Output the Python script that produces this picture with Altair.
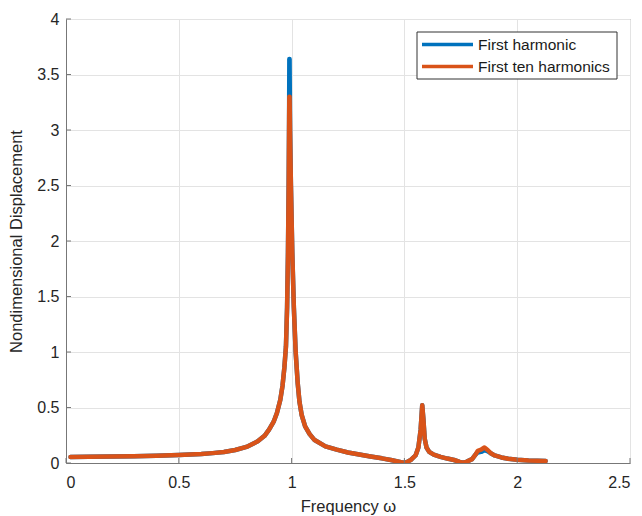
import altair as alt
import pandas as pd

# Frequency response of the nondimensional displacement
freq_first = [0.02, 0.1, 0.2, 0.3, 0.4, 0.5, 0.6, 0.65, 0.7, 0.75, 0.8, 0.85, 0.88, 0.9, 0.92,
              0.935, 0.95, 0.96, 0.968, 0.975, 0.98, 0.984, 0.987, 0.989, 0.990, 0.991, 0.993,
              0.997, 1.003, 1.01, 1.018, 1.027, 1.035, 1.045, 1.06, 1.08, 1.1, 1.15, 1.2, 1.25,
              1.3, 1.35, 1.4, 1.44, 1.47, 1.495, 1.51, 1.53, 1.55, 1.562, 1.572, 1.579, 1.584,
              1.59, 1.598, 1.61, 1.63, 1.66, 1.69, 1.72, 1.745, 1.758, 1.775, 1.8, 1.815, 1.825,
              1.84, 1.855, 1.87, 1.885, 1.9, 1.93, 1.96, 2.0, 2.05, 2.126]
disp_first = [0.055, 0.056, 0.058, 0.061, 0.065, 0.071, 0.081, 0.089, 0.099, 0.117, 0.145, 0.195,
              0.245, 0.30, 0.37, 0.45, 0.57, 0.70, 0.86, 1.05, 1.40, 1.90, 2.50, 3.10, 3.64, 3.64,
              3.00, 2.50, 1.90, 1.40, 1.00, 0.72, 0.55, 0.43, 0.33, 0.26, 0.21, 0.15, 0.12, 0.095,
              0.076, 0.058, 0.042, 0.027, 0.014, 0.003, 0.008, 0.03, 0.07, 0.14, 0.30, 0.52, 0.40,
              0.22, 0.14, 0.10, 0.075, 0.055, 0.040, 0.027, 0.010, 0.002, 0.010, 0.035, 0.075,
              0.095, 0.10, 0.115, 0.105, 0.085, 0.068, 0.05, 0.038, 0.029, 0.023, 0.018]

freq_ten = [0.02, 0.1, 0.2, 0.3, 0.4, 0.5, 0.6, 0.65, 0.7, 0.75, 0.8, 0.85, 0.88, 0.9, 0.92,
            0.935, 0.95, 0.96, 0.968, 0.975, 0.98, 0.984, 0.987, 0.989, 0.990, 0.991, 0.993,
            0.997, 1.003, 1.01, 1.018, 1.027, 1.035, 1.045, 1.06, 1.08, 1.1, 1.15, 1.2, 1.25,
            1.3, 1.35, 1.4, 1.44, 1.47, 1.495, 1.51, 1.53, 1.55, 1.562, 1.572, 1.579, 1.584,
            1.59, 1.598, 1.61, 1.63, 1.66, 1.69, 1.72, 1.745, 1.758, 1.775, 1.8, 1.815, 1.825,
            1.84, 1.855, 1.87, 1.885, 1.9, 1.93, 1.96, 2.0, 2.05, 2.126]
disp_ten = [0.055, 0.056, 0.058, 0.061, 0.065, 0.071, 0.081, 0.089, 0.099, 0.117, 0.145, 0.195,
            0.245, 0.30, 0.37, 0.45, 0.57, 0.70, 0.86, 1.05, 1.40, 1.90, 2.50, 3.10, 3.30, 3.30,
            3.00, 2.50, 1.90, 1.40, 1.00, 0.72, 0.55, 0.43, 0.33, 0.26, 0.21, 0.15, 0.12, 0.095,
            0.076, 0.058, 0.042, 0.027, 0.014, 0.003, 0.008, 0.03, 0.07, 0.14, 0.30, 0.52, 0.40,
            0.22, 0.14, 0.10, 0.075, 0.055, 0.040, 0.027, 0.010, 0.002, 0.010, 0.035, 0.075,
            0.11, 0.12, 0.14, 0.115, 0.085, 0.068, 0.05, 0.038, 0.029, 0.023, 0.018]

series_names = ["First harmonic", "First ten harmonics"]
series_colors = ["#0072BD", "#D95319"]

x_ticks = [0, 0.5, 1, 1.5, 2, 2.5]
y_ticks = [0, 0.5, 1, 1.5, 2, 2.5, 3, 3.5, 4]

W, H = 564, 444
FONT = "Liberation Sans"

df_first = pd.DataFrame({"freq": freq_first, "disp": disp_first, "series": series_names[0]})
df_ten = pd.DataFrame({"freq": freq_ten, "disp": disp_ten, "series": series_names[1]})

x_scale = alt.Scale(domain=[0, 2.5], nice=False, zero=False)
y_scale = alt.Scale(domain=[0, 4], nice=False)
color_scale = alt.Scale(domain=series_names, range=series_colors)

x_enc = alt.X("freq:Q", scale=x_scale, title="Frequency ω",
              axis=alt.Axis(values=x_ticks, format="~g", ticks=False, labelPadding=11,
                            titlePadding=8))
y_enc = alt.Y("disp:Q", scale=y_scale, title="Nondimensional Displacement",
              axis=alt.Axis(values=y_ticks, format="~g", ticks=False, labelPadding=7,
                            titlePadding=12))


def curve(df):
    return alt.Chart(df).mark_line(
        strokeWidth=4.5, clip=True, strokeJoin="round", strokeCap="round"
    ).encode(
        x=x_enc, y=y_enc,
        color=alt.Color("series:N", scale=color_scale, legend=None),
    )


# inward tick marks along the bottom and left axes
xt = alt.Chart(pd.DataFrame({"freq": x_ticks})).mark_rule(color="#777", strokeWidth=1).encode(
    x=alt.X("freq:Q", scale=x_scale), y=alt.value(H), y2=alt.value(H - 5))
yt = alt.Chart(pd.DataFrame({"disp": y_ticks})).mark_rule(color="#777", strokeWidth=1).encode(
    y=alt.Y("disp:Q", scale=y_scale), x=alt.value(0), x2=alt.value(5))

# legend box
lx0, ly0, lx1, ly1 = 351, 13, 551, 60
legend_box = alt.Chart(pd.DataFrame({"a": [0]})).mark_rect(
    fill="white", stroke="#333", strokeWidth=1).encode(
    x=alt.value(lx0), x2=alt.value(lx1), y=alt.value(ly0), y2=alt.value(ly1))
row_y = [25.5, 47.5]
legend_layers = []
for i, name in enumerate(series_names):
    legend_layers.append(
        alt.Chart(pd.DataFrame({"series": [name]})).mark_rule(strokeWidth=3.5).encode(
            x=alt.value(356), x2=alt.value(407), y=alt.value(row_y[i]),
            color=alt.Color("series:N", scale=color_scale, legend=None)))
    legend_layers.append(
        alt.Chart(pd.DataFrame({"series": [name]})).mark_text(
            align="left", baseline="middle", font=FONT, fontSize=15.5, color="#1a1a1a").encode(
            x=alt.value(412), y=alt.value(row_y[i]), text="series:N"))

chart = alt.layer(
    curve(df_first), curve(df_ten), xt, yt, legend_box, *legend_layers
).properties(
    width=W, height=H,
    autosize=alt.AutoSizeParams(type="none"),
    padding={"left": 66, "top": 19, "right": 12, "bottom": 53},
).configure(
    background="white",
).configure_view(
    stroke="#888", strokeWidth=1,
).configure_axis(
    labelFont=FONT, titleFont=FONT, labelFontSize=16, titleFontSize=16.5,
    labelColor="#262626", titleColor="#262626", titleFontWeight="normal",
    domainColor="#777", grid=True, gridColor="#e3e3e3", gridWidth=1,
)

chart.save("out.html", embed_options={"renderer": "svg", "actions": False})
